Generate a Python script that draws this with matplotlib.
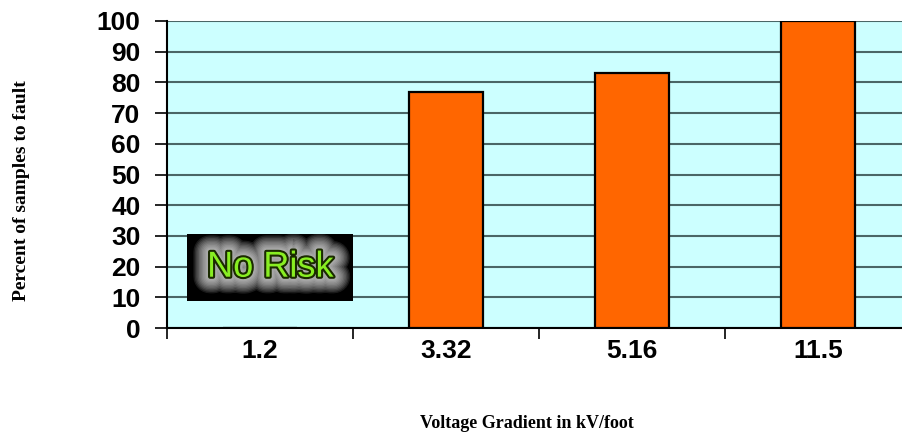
import numpy as np
import matplotlib.pyplot as plt
import matplotlib.patheffects as pe
from matplotlib.patches import Rectangle

# data
gradients = ['1.2', '3.32', '5.16', '11.5']
pct_fault = [0, 77, 83, 100]
yticks = list(range(0, 101, 10))

fig = plt.figure(figsize=(9.02, 4.33), dpi=100)
# plot area runs slightly past the right edge of the picture
ax = fig.add_axes([167 / 902, 1 - 328 / 433, 744 / 902, 307 / 433])
ax.set_facecolor('#ccffff')

x = np.arange(len(gradients))
ax.bar(x, pct_fault, width=0.4, color='#ff6600', edgecolor='black', linewidth=1.6, zorder=3)

ax.set_xlim(-0.5, len(gradients) - 0.5)
ax.set_ylim(0, 100)
ax.set_yticks(yticks)
ax.set_yticklabels([str(t) for t in yticks], fontsize=19, fontweight='bold', family='Liberation Sans')
ax.yaxis.grid(True, color='#4a6666', linewidth=1.5, zorder=1)
ax.tick_params(axis='y', length=9, width=1.2, pad=10)

# category labels centred, tick marks between categories
ax.set_xticks(np.arange(len(gradients) + 1) - 0.5)
ax.set_xticklabels([])
ax.set_xticks(x, minor=True)
ax.set_xticklabels(gradients, minor=True, fontsize=19, fontweight='bold', family='Liberation Sans')
ax.tick_params(axis='x', which='major', length=8, width=1.2, direction='out')
ax.tick_params(axis='x', which='minor', length=0, pad=8)

for s in ['top', 'right']:
    ax.spines[s].set_visible(False)
ax.spines['left'].set_linewidth(1.5)
ax.spines['bottom'].set_linewidth(1.5)

fig.text(22 / 902, 1 - 191 / 433, 'Percent of samples to fault', fontsize=14, fontweight='bold',
         family='Liberation Serif', rotation=90, ha='center', va='center')
fig.text(527 / 902, 1 - 424 / 433, 'Voltage Gradient in kV/foot', fontsize=13,
         fontweight='bold', family='Liberation Serif', ha='center', va='center')

# "No Risk" badge
ax.add_patch(Rectangle((-0.39, 8.8), 0.89, 21.8, facecolor='black', edgecolor='none', zorder=4))
glow = [pe.Stroke(linewidth=w, foreground='white', alpha=0.1) for w in range(24, 3, -2)]
glow += [pe.Stroke(linewidth=3, foreground='#1a2a00'), pe.Normal()]
ax.text(0.055, 19.8, 'No Risk', fontsize=26, color='#88ee22', ha='center', va='center',
        family='Liberation Sans', zorder=5, path_effects=glow)

fig.savefig('out.png', dpi=100)
